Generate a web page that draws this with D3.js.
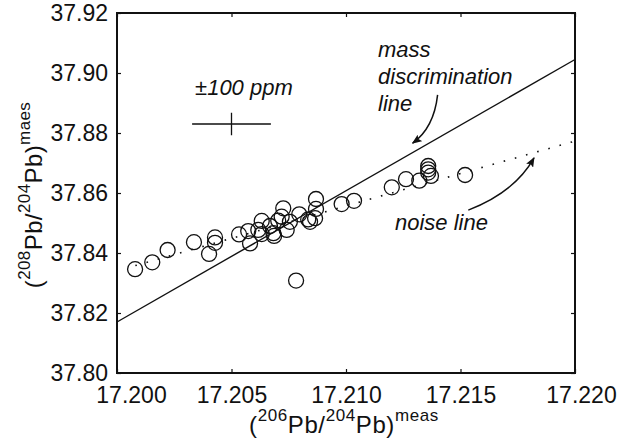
<!DOCTYPE html>
<html>
<head>
<meta charset="utf-8">
<script src="https://cdn.jsdelivr.net/npm/d3@7"></script>
<style>
  body { margin: 0; background: #fff; }
  text { font-family: "Liberation Sans", Arial, Helvetica, sans-serif; fill: #111; }
</style>
</head>
<body>
<div id="chart"></div>
<script>
const ratio206 = [17.20079, 17.20154, 17.20221, 17.20336, 17.20402, 17.20428, 17.20428, 17.20533,
  17.20573, 17.20581, 17.20617, 17.20632, 17.20632, 17.20668, 17.20683, 17.20686, 17.20704,
  17.20726, 17.20719, 17.20741, 17.20755, 17.20782, 17.20796, 17.20835, 17.20843, 17.20865,
  17.20869, 17.20869, 17.20981, 17.21035, 17.21200, 17.21262, 17.21320, 17.21359, 17.21359,
  17.21359, 17.21371, 17.21520];
const ratio208 = [37.8346, 37.8369, 37.8410, 37.8436, 37.8397, 37.8452, 37.8434, 37.8462,
  37.8473, 37.8432, 37.8477, 37.8507, 37.8463, 37.8490, 37.8466, 37.8457, 37.8508,
  37.8549, 37.8521, 37.8477, 37.8504, 37.8308, 37.8529, 37.8512, 37.8504, 37.8516,
  37.8547, 37.8580, 37.8563, 37.8574, 37.8619, 37.8646, 37.8641, 37.8690, 37.8679,
  37.8668, 37.8657, 37.8660];

const xTicks = [17.200, 17.205, 17.210, 17.215, 17.220];
const yTicks = [37.80, 37.82, 37.84, 37.86, 37.88, 37.90, 37.92];

// the two reference lines (end points)
const massLine = [[17.200, 37.8170], [17.220, 37.9045]];
const noiseLine = [[17.2008, 37.8358], [17.220, 37.8773]];

// error cross
const errCenter = [17.205, 37.883];
const errPpm = 100;

// curved arrows: start, control, end
const massArrow = [[17.21400, 37.8927], [17.21384, 37.8817], [17.21291, 37.8766]];
const noiseArrow = [[17.21534, 37.8543], [17.21738, 37.8603], [17.21821, 37.8717]];

(function() {
  const W = 632, H = 442;
  const margin = { top: 13, right: 57, bottom: 69, left: 117 };
  const width = W - margin.left - margin.right;
  const height = H - margin.top - margin.bottom;

  const svg = d3.select('#chart').append('svg')
    .attr('width', W).attr('height', H);

  const defs = svg.append('defs');
  defs.append('marker')
    .attr('id', 'head')
    .attr('viewBox', '0 0 10 8')
    .attr('refX', 9).attr('refY', 4)
    .attr('markerWidth', 10).attr('markerHeight', 8)
    .attr('markerUnits', 'userSpaceOnUse')
    .attr('orient', 'auto')
    .append('path')
    .attr('d', 'M0,0 L10,4 L0,8 L2,4 z')
    .attr('fill', '#111');

  const g = svg.append('g')
    .attr('transform', `translate(${margin.left},${margin.top})`);

  const x = d3.scaleLinear().domain([17.200, 17.220]).range([0, width]);
  const y = d3.scaleLinear().domain([37.80, 37.92]).range([height, 0]);

  // axes with inward ticks
  const tick = 4;
  const xAxis = g.append('g')
    .attr('transform', `translate(0,${height})`)
    .call(d3.axisBottom(x).tickValues(xTicks).tickFormat(d3.format('.3f'))
      .tickSizeInner(-tick).tickSizeOuter(0).tickPadding(14));
  xAxis.selectAll('text')
    .style('font-size', '23px')
    .attr('dx', (d, i) => i === 0 ? 14 : (i === xTicks.length - 1 ? 6 : 0));

  g.append('g')
    .call(d3.axisTop(x).tickValues(xTicks).tickFormat('').tickSizeInner(-tick).tickSizeOuter(0));

  const yAxis = g.append('g')
    .call(d3.axisLeft(y).tickValues(yTicks).tickFormat(d3.format('.2f'))
      .tickSizeInner(-tick).tickSizeOuter(0).tickPadding(9));
  yAxis.selectAll('text').style('font-size', '23px');

  g.append('g')
    .attr('transform', `translate(${width},0)`)
    .call(d3.axisRight(y).tickValues(yTicks).tickFormat('').tickSizeInner(-tick).tickSizeOuter(0));

  g.selectAll('.domain').remove();
  g.selectAll('.tick line').attr('stroke', '#111').attr('stroke-width', 1.2);

  g.append('rect')
    .attr('width', width).attr('height', height)
    .attr('fill', 'none').attr('stroke', '#111').attr('stroke-width', 2);

  const line = d3.line().x(d => x(d[0])).y(d => y(d[1]));

  // mass discrimination line
  g.append('path')
    .attr('d', line(massLine))
    .attr('fill', 'none').attr('stroke', '#111').attr('stroke-width', 1.4);

  // noise line (dotted)
  g.append('path')
    .attr('d', line(noiseLine))
    .attr('fill', 'none').attr('stroke', '#111').attr('stroke-width', 1.6)
    .attr('stroke-dasharray', '1.6 10');

  // data circles
  g.selectAll('.pt')
    .data(ratio206.map((v, i) => [v, ratio208[i]]))
    .enter().append('circle')
    .attr('class', 'pt')
    .attr('cx', d => x(d[0])).attr('cy', d => y(d[1]))
    .attr('r', 7.5)
    .attr('fill', 'none').attr('stroke', '#111').attr('stroke-width', 1.3);

  // ±100 ppm cross
  const dx = errCenter[0] * errPpm * 1e-6;
  const dy = errCenter[1] * errPpm * 1e-6;
  g.append('path')
    .attr('d', line([[errCenter[0] - dx, errCenter[1]], [errCenter[0] + dx, errCenter[1]]]) +
      line([[errCenter[0], errCenter[1] - dy], [errCenter[0], errCenter[1] + dy]]))
    .attr('fill', 'none').attr('stroke', '#111').attr('stroke-width', 1.3);

  g.append('text')
    .attr('x', x(17.20341)).attr('y', y(37.8927))
    .style('font-size', '22px').style('font-style', 'italic')
    .text('±100 ppm');

  // arrows
  const curve = pts => {
    const p = d3.path();
    p.moveTo(x(pts[0][0]), y(pts[0][1]));
    p.quadraticCurveTo(x(pts[1][0]), y(pts[1][1]), x(pts[2][0]), y(pts[2][1]));
    return p.toString();
  };
  [massArrow, noiseArrow].forEach(a => {
    g.append('path')
      .attr('d', curve(a))
      .attr('fill', 'none').attr('stroke', '#111').attr('stroke-width', 1.5)
      .attr('marker-end', 'url(#head)');
  });

  // annotations
  const massLabel = g.append('text')
    .attr('x', x(17.2114)).attr('y', y(37.9053))
    .style('font-size', '22px').style('font-style', 'italic');
  ['mass', 'discrimination', 'line'].forEach((t, i) => {
    massLabel.append('tspan')
      .attr('x', x(17.2114)).attr('dy', i === 0 ? 0 : 27)
      .text(t);
  });

  g.append('text')
    .attr('x', x(17.21214)).attr('y', y(37.8477))
    .style('font-size', '22px').style('font-style', 'italic')
    .text('noise line');

  // axis titles
  const title = (sel, a, b, sup) => {
    sel.append('tspan').text('(');
    sel.append('tspan').attr('dy', -12).style('font-size', '17px').text(a);
    sel.append('tspan').attr('dy', 12).text('Pb/');
    sel.append('tspan').attr('dy', -12).style('font-size', '17px').text(b);
    sel.append('tspan').attr('dy', 12).text('Pb)');
    sel.append('tspan').attr('dy', -12).style('font-size', '17px').text(sup);
  };

  const xt = svg.append('text')
    .attr('x', 344).attr('y', 433)
    .attr('text-anchor', 'middle')
    .style('font-size', '24px')
    .style('letter-spacing', '0.6px');
  title(xt, '206', '204', 'meas');

  const yt = svg.append('text')
    .attr('transform', 'translate(42,195) rotate(-90)')
    .attr('text-anchor', 'middle')
    .style('font-size', '24px')
    .style('letter-spacing', '0.4px');
  title(yt, '208', '204', 'maes');
})();
</script>
</body>
</html>
